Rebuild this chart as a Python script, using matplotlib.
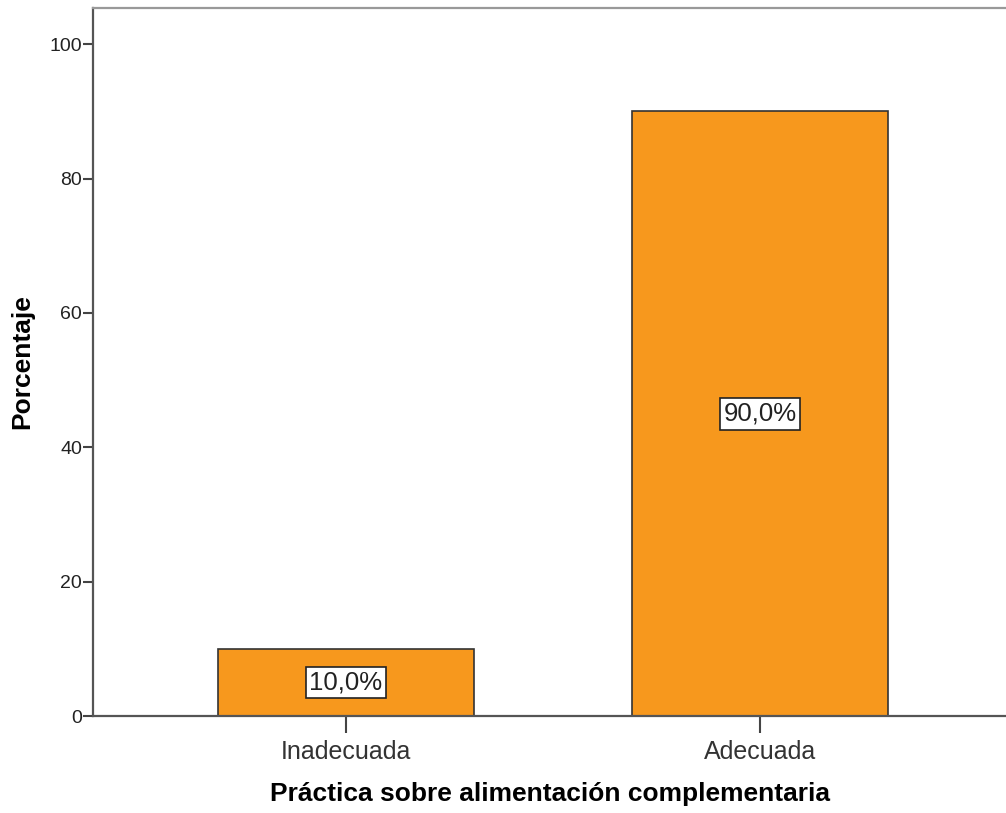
import matplotlib
matplotlib.use("Agg")
import matplotlib.pyplot as plt

categories = ["Inadecuada", "Adecuada"]
percentages = [10.0, 90.0]
yticks = [0, 20, 40, 60, 80, 100]

plt.rcParams['font.family'] = ['Liberation Sans', 'DejaVu Sans']

fig = plt.figure(figsize=(10.06, 8.13), dpi=100)
ax = fig.add_axes([93 / 1006, 97 / 813, 1 - 93 / 1006, 708 / 813])

x = list(range(len(categories)))
bars = ax.bar(x, percentages, width=0.618, color='#F7981D', edgecolor='#333333', linewidth=1.2)

# etiquetas de porcentaje en el centro de cada barra
for bar, val in zip(bars, percentages):
    ax.text(bar.get_x() + bar.get_width() / 2, val / 2, f"{val:.1f}%".replace('.', ','),
            ha='center', va='center', fontsize=18.5, color='#222222',
            bbox=dict(boxstyle='square,pad=0.15', facecolor='white', edgecolor='#222222', linewidth=1.2))

ax.set_xlim(-0.611, 1.594)
ax.set_ylim(0, 105.4)
ax.set_xticks(x)
ax.set_xticklabels(categories, fontsize=18, color='#333333')
ax.set_yticks(yticks)
ax.set_yticklabels([str(t) for t in yticks], fontsize=14, color='#222222')
ax.tick_params(axis='y', length=7, width=1.5, color='#444444', pad=1)
ax.tick_params(axis='x', length=12, width=1.5, color='#444444', pad=5)

for side in ['left', 'bottom', 'top']:
    ax.spines[side].set_color('#555555')
    ax.spines[side].set_linewidth(1.6)
ax.spines['top'].set_color('#999999')
ax.spines['right'].set_visible(False)

ax.set_xlabel("Práctica sobre alimentación complementaria", fontsize=19, fontweight='bold', labelpad=13)
ax.set_ylabel("Porcentaje", fontsize=19, fontweight='bold', labelpad=11)

fig.savefig("out.png", dpi=100)
